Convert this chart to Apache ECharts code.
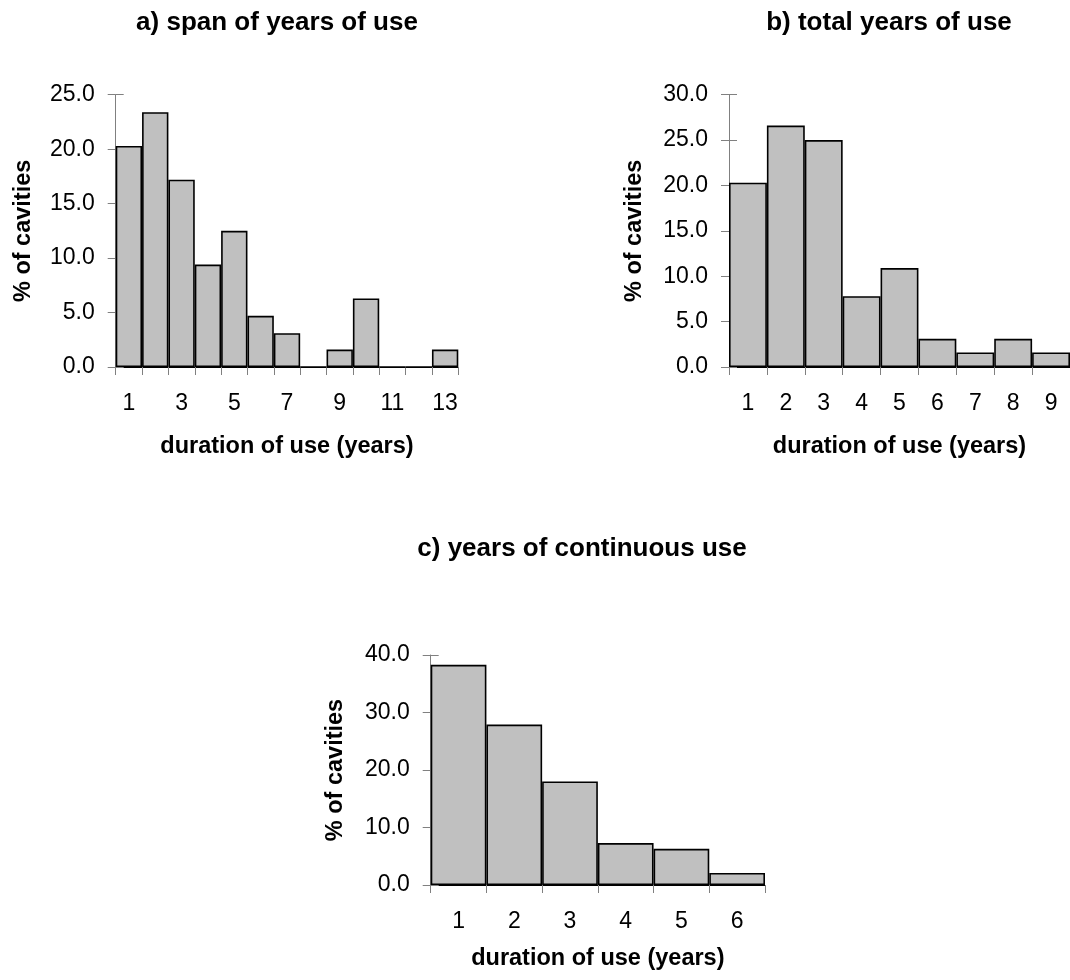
<!DOCTYPE html>
<html>
<head>
<meta charset="utf-8">
<script src="https://cdn.jsdelivr.net/npm/echarts@6/dist/echarts.min.js"></script>
<style>
html,body{margin:0;padding:0;background:#fff;}
#chart{width:1070px;height:980px;}
</style>
</head>
<body>
<div id="chart"></div>
<script>
// ---- data ----
var titleA = 'a) span of years of use';
var titleB = 'b) total years of use';
var titleC = 'c) years of continuous use';
var xName = 'duration of use (years)';
var yName = '% of cavities';

var catsA = ['1','2','3','4','5','6','7','8','9','10','11','12','13'];
var valsA = [20.3, 23.4, 17.2, 9.4, 12.5, 4.7, 3.1, 0, 1.6, 6.3, 0, 0, 1.6];

var catsB = ['1','2','3','4','5','6','7','8','9'];
var valsB = [20.3, 26.6, 25.0, 7.8, 10.9, 3.1, 1.6, 3.1, 1.6];

var catsC = ['1','2','3','4','5','6'];
var valsC = [38.3, 27.9, 18.0, 7.3, 6.3, 2.1];

var FONT = 'Liberation Sans, Arial, sans-serif';
var TICK_FS = 23;
var NAME_FS = 23.5;
var TITLE_FS = 26;

var chart = echarts.init(document.getElementById('chart'), null, {renderer: 'canvas'});

function xAxisOf(grid, cats, labelInterval, nameGap) {
  return {
    type: 'category', gridIndex: grid, data: cats, boundaryGap: true,
    name: xName, nameLocation: 'middle', nameGap: nameGap,
    nameTextStyle: {fontFamily: FONT, fontSize: NAME_FS, fontWeight: 'bold', color: '#000'},
    axisLine: {show: true, lineStyle: {color: '#000', width: 1}},
    axisTick: {show: true, interval: 0, alignWithLabel: false, length: 8, inside: false, lineStyle: {color: '#808080', width: 1}},
    axisLabel: {interval: labelInterval, margin: 25, fontFamily: FONT, fontSize: TICK_FS, color: '#000'},
    splitLine: {show: false}
  };
}
function yAxisOf(grid, max, interval, nameGap) {
  return {
    type: 'value', gridIndex: grid, min: 0, max: max, interval: interval,
    name: yName, nameLocation: 'middle', nameGap: nameGap, nameRotate: 90,
    nameTextStyle: {fontFamily: FONT, fontSize: NAME_FS, fontWeight: 'bold', color: '#000'},
    axisLine: {show: true, lineStyle: {color: '#808080', width: 1}},
    axisTick: {show: true, length: 8, inside: false, lineStyle: {color: '#808080', width: 1}},
    axisLabel: {margin: 21, fontFamily: FONT, fontSize: TICK_FS, color: '#000',
      formatter: function (v) { return v.toFixed(1); }},
    splitLine: {show: false}
  };
}
function yInnerTicks(grid, max, interval) {
  return {
    type: 'value', gridIndex: grid, min: 0, max: max, interval: interval, position: 'left',
    axisLine: {show: false},
    axisTick: {show: true, length: 8, inside: true, lineStyle: {color: '#808080', width: 1}},
    axisLabel: {show: false},
    splitLine: {show: false}
  };
}
function barSeries(xi, yi, vals) {
  return {
    type: 'bar', xAxisIndex: xi, yAxisIndex: yi, data: vals,
    barCategoryGap: '0%', barGap: '0%',
    itemStyle: {color: '#C0C0C0', borderColor: '#000', borderWidth: 1.6},
    silent: true, animation: false, z: 1
  };
}

var option = {
  backgroundColor: '#fff',
  animation: false,
  title: [
    {text: titleA, left: 272, top: 5, textAlign: 'center', textStyle: {fontFamily: FONT, fontSize: TITLE_FS, fontWeight: 'bold', color: '#000'}},
    {text: titleB, left: 884, top: 5, textAlign: 'center', textStyle: {fontFamily: FONT, fontSize: TITLE_FS, fontWeight: 'bold', color: '#000'}},
    {text: titleC, left: 577, top: 531, textAlign: 'center', textStyle: {fontFamily: FONT, fontSize: TITLE_FS, fontWeight: 'bold', color: '#000'}}
  ],
  grid: [
    {left: 115.7, top: 94.7, width: 342.6, height: 272.3, containLabel: false},
    {left: 729, top: 94.7, width: 342.3, height: 272.3, containLabel: false},
    {left: 430.7, top: 655, width: 334.3, height: 230, containLabel: false}
  ],
  xAxis: [
    xAxisOf(0, catsA, 1, 68),
    xAxisOf(1, catsB, 0, 68),
    xAxisOf(2, catsC, 0, 62)
  ],
  yAxis: [
    yAxisOf(0, 25, 5, 80),
    yAxisOf(1, 30, 5, 82),
    yAxisOf(2, 40, 10, 83),
    yInnerTicks(0, 25, 5),
    yInnerTicks(1, 30, 5),
    yInnerTicks(2, 40, 10)
  ],
  series: [
    barSeries(0, 0, valsA),
    barSeries(1, 1, valsB),
    barSeries(2, 2, valsC)
  ]
};
chart.setOption(option);
</script>
</body>
</html>
